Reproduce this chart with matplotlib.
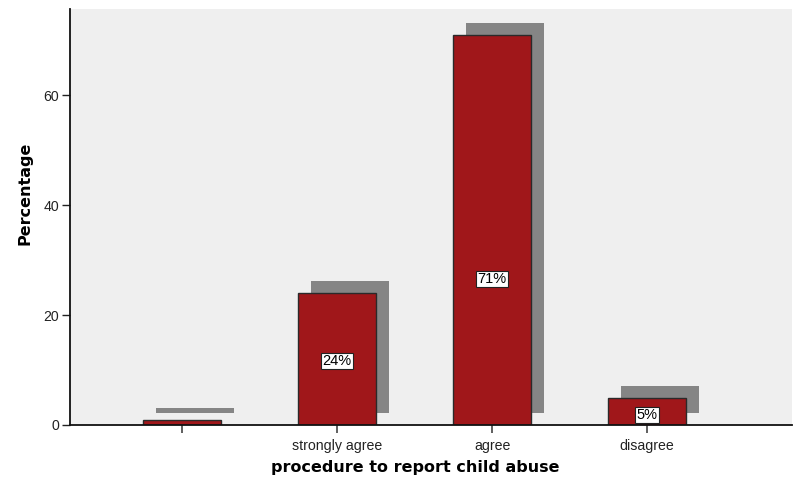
import matplotlib
matplotlib.use("Agg")
import matplotlib.pyplot as plt
from matplotlib.patches import Rectangle
from matplotlib.transforms import ScaledTranslation

categories = ["", "strongly agree", "agree", "disagree"]
percentages = [1, 24, 71, 5]
bar_labels = ["", "24%", "71%", "5%"]
# vertical anchor of each value label inside its bar (data units)
label_anchor = [0.5, 11.6, 26.6, 1.8]

bar_color = "#A0171A"
shadow_color = "#858585"
panel_color = "#EFEFEF"

W, H, DPI = 793, 482, 100
fig = plt.figure(figsize=(W / DPI, H / DPI), dpi=DPI)
ax = fig.add_axes([70 / W, 1 - 425 / H, (792 - 70) / W, (425 - 9) / H])
ax.set_facecolor(panel_color)

x = list(range(len(categories)))
width = 0.503

# drop shadow behind each bar, shifted up and to the right
shadow_offset = ScaledTranslation(13 / DPI, 12 / DPI, fig.dpi_scale_trans)
for xi, v in zip(x, percentages):
    r = Rectangle((xi - width / 2, 0), width, v, facecolor=shadow_color,
                  edgecolor="none", transform=ax.transData + shadow_offset,
                  zorder=1)
    ax.add_patch(r)

bars = ax.bar(x, percentages, width=width, color=bar_color,
              edgecolor="#2a2a2a", linewidth=1.0, zorder=2)

for xi, ly, lab in zip(x, label_anchor, bar_labels):
    if lab:
        ax.text(xi, ly, lab, ha="center", va="center", fontsize=10.5,
                family="Liberation Sans", color="black", zorder=3,
                bbox=dict(boxstyle="square,pad=0.08", facecolor="white",
                          edgecolor="#222222", linewidth=0.8))

ax.set_xlim(-0.723, 3.935)
ax.set_ylim(0, 75.7)
ax.set_xticks(x)
ax.set_xticklabels(categories, family="Liberation Sans", fontsize=10.2,
                   color="#222222")
ax.set_yticks([0, 20, 40, 60])
ax.set_yticklabels(["0", "20", "40", "60"], family="Liberation Sans",
                   fontsize=10.2, color="#222222")
ax.tick_params(axis="x", length=6, width=1.2, color="#444444", pad=4)
ax.tick_params(axis="y", length=6, width=1.0, color="#222222", pad=2)

for s in ["top", "right"]:
    ax.spines[s].set_visible(False)
for s in ["left", "bottom"]:
    ax.spines[s].set_linewidth(1.3)
    ax.spines[s].set_color("#111111")

ax.set_ylabel("Percentage", fontsize=11.5, fontweight="bold",
              family="DejaVu Sans")
ax.yaxis.set_label_coords(-37 / (792 - 70), 1 - (193 - 9) / (425 - 9))
ax.set_xlabel("procedure to report child abuse", fontsize=11.5,
              fontweight="bold", family="DejaVu Sans")
ax.xaxis.set_label_coords((415 - 70) / (792 - 70), -(460 - 425) / (425 - 9))

fig.savefig("out.png", dpi=DPI)
